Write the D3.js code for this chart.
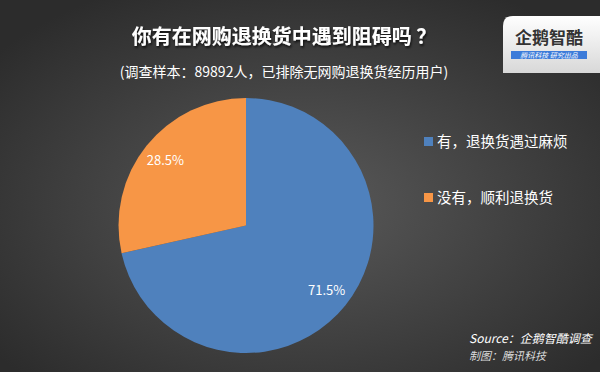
<!DOCTYPE html>
<html>
<head>
<meta charset="utf-8">
<script src="https://cdn.jsdelivr.net/npm/d3@7"></script>
<style>
  body { margin: 0; padding: 0; background: #333; }
  svg { display: block; font-family: "Microsoft YaHei", "Noto Sans CJK SC", sans-serif; }
</style>
</head>
<body>
<div id="chart"></div>
<script>
// data
var categories = ["有，退换货遇过麻烦", "没有，顺利退换货"];
var values = [71.5, 28.5];
var colors = ["#4f81bd", "#f79646"];

var w = 600, h = 372;

var svg = d3.select("#chart")
  .append("svg")
  .attr("width", w)
  .attr("height", h);

var defs = svg.append("defs");
var bg = defs.append("radialGradient")
  .attr("id", "bg")
  .attr("cx", "50%").attr("cy", "55%")
  .attr("r", "65%");
bg.append("stop").attr("offset", "0%").attr("stop-color", "#5a5a5a");
bg.append("stop").attr("offset", "100%").attr("stop-color", "#2c2c2c");

var logoGrad = defs.append("linearGradient")
  .attr("id", "logoGrad")
  .attr("x1", "0").attr("y1", "0").attr("x2", "0").attr("y2", "1");
logoGrad.append("stop").attr("offset", "0%").attr("stop-color", "#ffffff");
logoGrad.append("stop").attr("offset", "100%").attr("stop-color", "#d8d8d8");

var shadow = defs.append("filter").attr("id", "shadow")
  .attr("x", "-10%").attr("y", "-30%").attr("width", "120%").attr("height", "160%");
shadow.append("feDropShadow")
  .attr("dx", 1).attr("dy", 2).attr("stdDeviation", 1.2)
  .attr("flood-color", "#000").attr("flood-opacity", 0.7);

svg.append("rect")
  .attr("width", w).attr("height", h)
  .attr("fill", "url(#bg)");

// title
svg.append("text")
  .attr("x", 284).attr("y", 44)
  .attr("text-anchor", "middle")
  .attr("fill", "#ffffff")
  .attr("font-size", 20)
  .attr("font-weight", "bold")
  .attr("filter", "url(#shadow)")
  .text("你有在网购退换货中遇到阻碍吗 ？");

svg.append("text")
  .attr("x", 284).attr("y", 77)
  .attr("text-anchor", "middle")
  .attr("fill", "#ffffff")
  .attr("font-size", 14)
  .text("(调查样本：89892人，已排除无网购退换货经历用户)");

// pie
var cx = 246, cy = 225.5, radius = 127.5;

var pie = d3.pie()
  .sort(null)
  .value(function(d) { return d; });

var arc = d3.arc().innerRadius(0).outerRadius(radius);
var labelArc = d3.arc().innerRadius(radius * 0.81).outerRadius(radius * 0.81);

var g = svg.append("g")
  .attr("transform", "translate(" + cx + "," + cy + ")");

var slices = pie(values);

g.selectAll("path")
  .data(slices)
  .enter().append("path")
  .attr("d", arc)
  .attr("fill", function(d, i) { return colors[i]; });

g.selectAll("text")
  .data(slices)
  .enter().append("text")
  .attr("transform", function(d) { return "translate(" + labelArc.centroid(d) + ")"; })
  .attr("text-anchor", "middle")
  .attr("dy", "0.35em")
  .attr("fill", "#ffffff")
  .attr("font-size", 13)
  .text(function(d) { return d3.format(".1f")(d.data) + "%"; });

// legend
var legend = svg.append("g").selectAll("g")
  .data(categories)
  .enter().append("g")
  .attr("transform", function(d, i) { return "translate(424," + (142 + i * 56) + ")"; });

legend.append("rect")
  .attr("x", 0).attr("y", -5)
  .attr("width", 9).attr("height", 9)
  .attr("fill", function(d, i) { return colors[i]; });

legend.append("text")
  .attr("x", 13).attr("y", 0)
  .attr("dy", "0.35em")
  .attr("fill", "#ffffff")
  .attr("font-size", 14.5)
  .text(function(d) { return d; });

// source
svg.append("text")
  .attr("x", 469).attr("y", 343)
  .attr("fill", "#ffffff")
  .attr("font-size", 12)
  .attr("font-style", "italic")
  .text("Source：企鹅智酷调查");

svg.append("text")
  .attr("x", 469).attr("y", 360)
  .attr("fill", "#dddddd")
  .attr("font-size", 11)
  .attr("font-style", "italic")
  .text("制图：腾讯科技");

// logo
var logo = svg.append("g");
logo.append("path")
  .attr("d", "M503,26 Q503,16 513,16 L600,16 L600,73 L503,73 Z")
  .attr("fill", "url(#logoGrad)");

logo.append("text")
  .attr("x", 549).attr("y", 44)
  .attr("text-anchor", "middle")
  .attr("fill", "#333")
  .attr("font-size", 17)
  .attr("font-weight", "bold")
  .text("企鹅智酷");

logo.append("rect")
  .attr("x", 511).attr("y", 51)
  .attr("width", 76).attr("height", 8)
  .attr("fill", "#3c7bd9");

logo.append("text")
  .attr("x", 549).attr("y", 58)
  .attr("text-anchor", "middle")
  .attr("fill", "#ffffff")
  .attr("font-size", 7)
  .attr("font-style", "italic")
  .text("腾讯科技  研究出品");
</script>
</body>
</html>
